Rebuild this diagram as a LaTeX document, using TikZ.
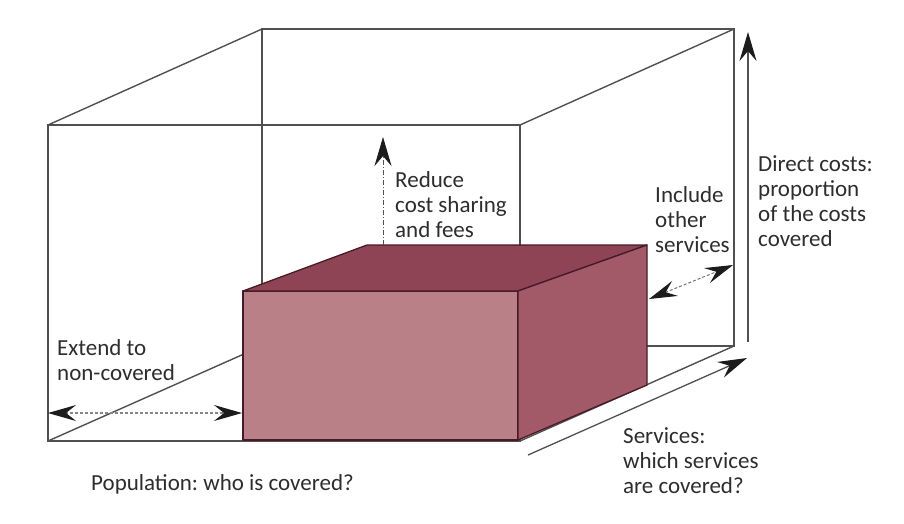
\documentclass[tikz,border=0pt]{standalone}
\usepackage{fontspec}
\setmainfont{Carlito}
\usetikzlibrary{arrows.meta}
\definecolor{boxfront}{RGB}{185,128,136}
\definecolor{boxtop}{RGB}{143,68,85}
\definecolor{boxside}{RGB}{163,90,104}
\definecolor{boxedge}{RGB}{72,26,38}
\definecolor{frame}{RGB}{80,80,80}
\definecolor{tipcol}{RGB}{28,28,28}
\definecolor{txt}{RGB}{45,45,45}

\begin{document}
\frenchspacing
\begin{tikzpicture}[x=1pt,y=-1pt,
  frameline/.style={draw=frame,line width=1.4pt},
  boxface/.style={draw=boxedge,line width=1.3pt,line join=round},
  lbl/.style={anchor=base west,inner sep=0pt,align=left,text=txt,font=\fontsize{23}{25}\selectfont},
  bigtip/.style={-{Stealth[length=29pt,width=17pt,inset=10pt,color=tipcol]}},
  dbltip/.style={{Stealth[length=28pt,width=16pt,inset=10pt,color=tipcol]}-{Stealth[length=28pt,width=16pt,inset=10pt,color=tipcol]}}
  ]
  \useasboundingbox (0,0) rectangle (904,523);
  % outer cube
  \coordinate (ftl) at (48,125);
  \coordinate (ftr) at (520,125);
  \coordinate (fbr) at (520,441);
  \coordinate (fbl) at (48,441);
  \coordinate (btl) at (262,29);
  \coordinate (btr) at (734,29);
  \coordinate (bbr) at (734,346);
  \coordinate (bbl) at (262,346);
  \draw[frameline] (btl) -- (btr) -- (bbr) -- (bbl) -- cycle;
  \draw[frameline] (ftl) -- (ftr) -- (fbr) -- (fbl) -- cycle;
  \draw[frameline] (ftl) -- (btl) (ftr) -- (btr) (fbl) -- (bbl) (fbr) -- (bbr);
  % covered box
  \coordinate (pftl) at (243,291);
  \coordinate (pftr) at (518,291);
  \coordinate (pfbr) at (518,440);
  \coordinate (pfbl) at (243,440);
  \coordinate (pbtl) at (367,245);
  \coordinate (pbtr) at (647,245);
  \coordinate (pbbr) at (647,385);
  \filldraw[boxface,fill=boxfront] (pftl) -- (pftr) -- (pfbr) -- (pfbl) -- cycle;
  \filldraw[boxface,fill=boxtop] (pftl) -- (pbtl) -- (pbtr) -- (pftr) -- cycle;
  \filldraw[boxface,fill=boxside] (pftr) -- (pbtr) -- (pbbr) -- (pfbr) -- cycle;
  % arrows
  \coordinate (reduce0) at (383,245);
  \coordinate (reduce1) at (383,137);
  \draw[bigtip,frame,line width=0.8pt,dash pattern=on 5pt off 2pt on 1pt off 2pt] (reduce0) -- (reduce1);
  \coordinate (direct0) at (748,342);
  \coordinate (direct1) at (748,32);
  \draw[bigtip,frame,line width=1.3pt] (direct0) -- (direct1);
  \coordinate (serv0) at (528,455);
  \coordinate (serv1) at (747,358);
  \draw[bigtip,frame,line width=1.3pt] (serv0) -- (serv1);
  \coordinate (incl0) at (649,299);
  \coordinate (incl1) at (733,265);
  \draw[dbltip,frame!80,line width=1pt,dash pattern=on 3pt off 2pt] (incl0) -- (incl1);
  \coordinate (ext0) at (48,413);
  \coordinate (ext1) at (242,413);
  \draw[dbltip,frame!70,line width=1.2pt,dash pattern=on 3pt off 2pt] (ext0) -- (ext1);
  % labels
  \node[lbl] (reduce) at (395,237) {Reduce\\cost sharing\\and fees};
  \node[lbl] (include) at (655,252) {Include\\other\\services};
  \node[lbl] (direct) at (758,246) {Direct costs:\\proportion\\of the costs\\covered};
  \node[lbl] (extend) at (57,380) {Extend to\\non-covered};
  \node[lbl] (population) at (91,490) {Population: who is covered?};
  \node[lbl] (services) at (623,493) {Services:\\which services\\are covered?};
\end{tikzpicture}
\end{document}
